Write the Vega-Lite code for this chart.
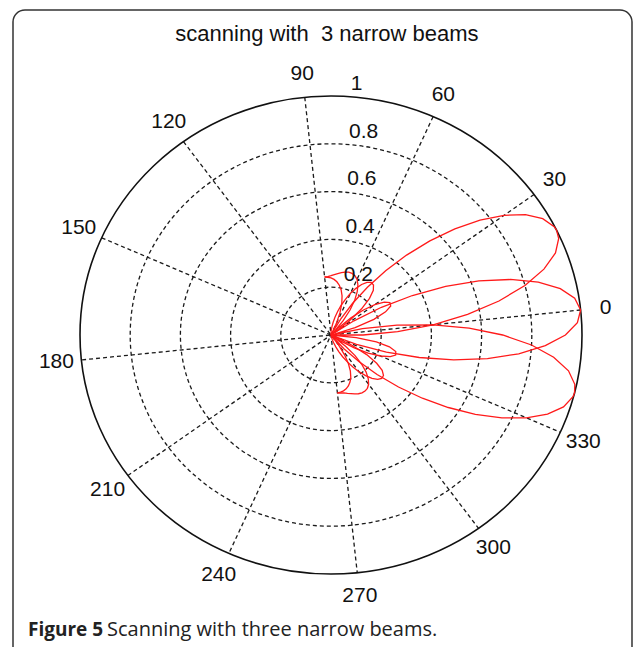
{
"$schema": "https://vega.github.io/schema/vega-lite/v6.json",
"width": 634, "height": 647, "autosize": "none", "padding": 0,
"background": "white",
"config": {"view": {"stroke": null}},
"layer": [
{"data": {"values": [{}]},
 "mark": {"type": "rect", "filled": false, "color": "#333", "stroke": "#333", "strokeWidth": 1.5, "cornerRadius": 12},
 "encoding": {
  "x": {"datum": -1.26693, "type": "quantitative", "scale": {"domain": [-1.31873, 1.20717], "nice": false, "zero": false}, "axis": null},
  "x2": {"datum": 1.1992},
  "y": {"datum": 1.35983, "type": "quantitative", "scale": {"domain": [-1.30544, 1.40167], "nice": false, "zero": false}, "axis": null},
  "y2": {"datum": -1.45}}},
{"data": {"values": [{"r": 0.2}, {"r": 0.4}, {"r": 0.6}, {"r": 0.8}]},
 "mark": {"type": "point", "filled": false, "opacity": 1, "stroke": "#1a1a1a", "strokeWidth": 1.3, "strokeDash": [4, 3],
  "shape": "M1,0C1,0.52588,0.55228,0.9522,0,0.9522C-0.55228,0.9522,-1,0.52588,-1,0C-1,-0.52588,-0.55228,-0.9522,0,-0.9522C0.55228,-0.9522,1,-0.52588,1,0Z"},
 "encoding": {
  "x": {"datum": 0, "type": "quantitative", "scale": {"domain": [-1.31873, 1.20717], "nice": false, "zero": false}, "axis": null},
  "y": {"datum": 0, "type": "quantitative", "scale": {"domain": [-1.30544, 1.40167], "nice": false, "zero": false}, "axis": null},
  "size": {"field": "r", "type": "quantitative", "scale": {"type": "pow", "exponent": 2, "domain": [0, 1], "range": [0, 252004]}, "legend": null}}},
{"data": {"values": [{"a": 0}, {"a": 30}, {"a": 60}, {"a": 90}, {"a": 120}, {"a": 150}]},
 "transform": [
  {"calculate": "cos((datum.a + 6) * PI / 180)", "as": "x"},
  {"calculate": "sin((datum.a + 6) * PI / 180)", "as": "y"},
  {"calculate": "-datum.x", "as": "x2"},
  {"calculate": "-datum.y", "as": "y2"}],
 "mark": {"type": "rule", "color": "#1a1a1a", "strokeWidth": 1.3, "strokeDash": [4, 3]},
 "encoding": {
  "x": {"field": "x", "type": "quantitative", "scale": {"domain": [-1.31873, 1.20717], "nice": false, "zero": false}, "axis": null},
  "y": {"field": "y", "type": "quantitative", "scale": {"domain": [-1.30544, 1.40167], "nice": false, "zero": false}, "axis": null},
  "x2": {"field": "x2"}, "y2": {"field": "y2"}}},
{"data": {"values": [{"r": 1}]},
 "mark": {"type": "point", "filled": false, "opacity": 1, "stroke": "#111", "strokeWidth": 1.6,
  "shape": "M1,0C1,0.52588,0.55228,0.9522,0,0.9522C-0.55228,0.9522,-1,0.52588,-1,0C-1,-0.52588,-0.55228,-0.9522,0,-0.9522C0.55228,-0.9522,1,-0.52588,1,0Z"},
 "encoding": {
  "x": {"datum": 0, "type": "quantitative", "scale": {"domain": [-1.31873, 1.20717], "nice": false, "zero": false}, "axis": null},
  "y": {"datum": 0, "type": "quantitative", "scale": {"domain": [-1.30544, 1.40167], "nice": false, "zero": false}, "axis": null},
  "size": {"field": "r", "type": "quantitative", "scale": {"type": "pow", "exponent": 2, "domain": [0, 1], "range": [0, 252004]}, "legend": null}}},
{"data": {"values": [
{"beam":"U","theta":-90,"r":0.244},{"beam":"U","theta":-87,"r":0.245},{"beam":"U","theta":-84,"r":0.248},{"beam":"U","theta":-81,"r":0.253},{"beam":"U","theta":-78,"r":0.258},{"beam":"U","theta":-75,"r":0.264},{"beam":"U","theta":-72,"r":0.269},{"beam":"U","theta":-69,"r":0.272},{"beam":"U","theta":-66,"r":0.271},{"beam":"U","theta":-63,"r":0.266},{"beam":"U","theta":-60,"r":0.255},{"beam":"U","theta":-57,"r":0.236},{"beam":"U","theta":-54,"r":0.209},{"beam":"U","theta":-51,"r":0.173},{"beam":"U","theta":-48,"r":0.129},{"beam":"U","theta":-45,"r":0.076},{"beam":"U","theta":-42,"r":0.017},{"beam":"U","theta":-41.1,"r":0},{"beam":"U","theta":-39,"r":0.045},{"beam":"U","theta":-36,"r":0.107},{"beam":"U","theta":-33,"r":0.166},{"beam":"U","theta":-30,"r":0.216},{"beam":"U","theta":-27,"r":0.253},{"beam":"U","theta":-24,"r":0.271},{"beam":"U","theta":-21,"r":0.267},{"beam":"U","theta":-18,"r":0.238},{"beam":"U","theta":-15,"r":0.183},{"beam":"U","theta":-12,"r":0.101},{"beam":"U","theta":-9.1,"r":0},{"beam":"U","theta":-6,"r":0.128},{"beam":"U","theta":-3,"r":0.266},{"beam":"U","theta":0,"r":0.409},{"beam":"U","theta":3,"r":0.551},{"beam":"U","theta":6,"r":0.684},{"beam":"U","theta":9,"r":0.8},{"beam":"U","theta":12,"r":0.892},{"beam":"U","theta":15,"r":0.958},{"beam":"U","theta":18,"r":0.993},{"beam":"U","theta":20,"r":1},{"beam":"U","theta":21,"r":0.998},{"beam":"U","theta":24,"r":0.974},{"beam":"U","theta":27,"r":0.924},{"beam":"U","theta":30,"r":0.852},{"beam":"U","theta":33,"r":0.764},{"beam":"U","theta":36,"r":0.664},{"beam":"U","theta":39,"r":0.557},{"beam":"U","theta":42,"r":0.45},{"beam":"U","theta":45,"r":0.346},{"beam":"U","theta":48,"r":0.247},{"beam":"U","theta":51,"r":0.157},{"beam":"U","theta":54,"r":0.077},{"beam":"U","theta":57.4,"r":0},{"beam":"U","theta":60,"r":0.051},{"beam":"U","theta":63,"r":0.1},{"beam":"U","theta":66,"r":0.139},{"beam":"U","theta":69,"r":0.17},{"beam":"U","theta":72,"r":0.194},{"beam":"U","theta":75,"r":0.211},{"beam":"U","theta":78,"r":0.224},{"beam":"U","theta":81,"r":0.233},{"beam":"U","theta":84,"r":0.239},{"beam":"U","theta":87,"r":0.242},{"beam":"U","theta":90,"r":0.244},
{"beam":"L","theta":-90,"r":0.244},{"beam":"L","theta":-87,"r":0.242},{"beam":"L","theta":-84,"r":0.239},{"beam":"L","theta":-81,"r":0.233},{"beam":"L","theta":-78,"r":0.224},{"beam":"L","theta":-75,"r":0.211},{"beam":"L","theta":-72,"r":0.194},{"beam":"L","theta":-69,"r":0.17},{"beam":"L","theta":-66,"r":0.139},{"beam":"L","theta":-63,"r":0.1},{"beam":"L","theta":-60,"r":0.051},{"beam":"L","theta":-57.4,"r":0},{"beam":"L","theta":-54,"r":0.077},{"beam":"L","theta":-51,"r":0.157},{"beam":"L","theta":-48,"r":0.247},{"beam":"L","theta":-45,"r":0.346},{"beam":"L","theta":-42,"r":0.45},{"beam":"L","theta":-39,"r":0.557},{"beam":"L","theta":-36,"r":0.664},{"beam":"L","theta":-33,"r":0.764},{"beam":"L","theta":-30,"r":0.852},{"beam":"L","theta":-27,"r":0.924},{"beam":"L","theta":-24,"r":0.974},{"beam":"L","theta":-21,"r":0.998},{"beam":"L","theta":-20,"r":1},{"beam":"L","theta":-18,"r":0.993},{"beam":"L","theta":-15,"r":0.958},{"beam":"L","theta":-12,"r":0.892},{"beam":"L","theta":-9,"r":0.8},{"beam":"L","theta":-6,"r":0.684},{"beam":"L","theta":-3,"r":0.551},{"beam":"L","theta":0,"r":0.409},{"beam":"L","theta":3,"r":0.266},{"beam":"L","theta":6,"r":0.128},{"beam":"L","theta":9.1,"r":0},{"beam":"L","theta":12,"r":0.101},{"beam":"L","theta":15,"r":0.183},{"beam":"L","theta":18,"r":0.238},{"beam":"L","theta":21,"r":0.267},{"beam":"L","theta":24,"r":0.271},{"beam":"L","theta":27,"r":0.253},{"beam":"L","theta":30,"r":0.216},{"beam":"L","theta":33,"r":0.166},{"beam":"L","theta":36,"r":0.107},{"beam":"L","theta":39,"r":0.045},{"beam":"L","theta":41.1,"r":0},{"beam":"L","theta":42,"r":0.017},{"beam":"L","theta":45,"r":0.076},{"beam":"L","theta":48,"r":0.129},{"beam":"L","theta":51,"r":0.173},{"beam":"L","theta":54,"r":0.209},{"beam":"L","theta":57,"r":0.236},{"beam":"L","theta":60,"r":0.255},{"beam":"L","theta":63,"r":0.266},{"beam":"L","theta":66,"r":0.271},{"beam":"L","theta":69,"r":0.272},{"beam":"L","theta":72,"r":0.269},{"beam":"L","theta":75,"r":0.264},{"beam":"L","theta":78,"r":0.258},{"beam":"L","theta":81,"r":0.253},{"beam":"L","theta":84,"r":0.248},{"beam":"L","theta":87,"r":0.245},{"beam":"L","theta":90,"r":0.244},
{"beam":"M","theta":-90,"r":0},{"beam":"M","theta":-87,"r":0.002},{"beam":"M","theta":-84,"r":0.009},{"beam":"M","theta":-81,"r":0.019},{"beam":"M","theta":-78,"r":0.034},{"beam":"M","theta":-75,"r":0.053},{"beam":"M","theta":-72,"r":0.076},{"beam":"M","theta":-69,"r":0.102},{"beam":"M","theta":-66,"r":0.13},{"beam":"M","theta":-63,"r":0.16},{"beam":"M","theta":-60,"r":0.191},{"beam":"M","theta":-57,"r":0.219},{"beam":"M","theta":-54,"r":0.244},{"beam":"M","theta":-51,"r":0.263},{"beam":"M","theta":-48,"r":0.272},{"beam":"M","theta":-45,"r":0.269},{"beam":"M","theta":-42,"r":0.252},{"beam":"M","theta":-39,"r":0.217},{"beam":"M","theta":-36,"r":0.164},{"beam":"M","theta":-33,"r":0.092},{"beam":"M","theta":-30,"r":0},{"beam":"M","theta":-27,"r":0.109},{"beam":"M","theta":-24,"r":0.232},{"beam":"M","theta":-21,"r":0.364},{"beam":"M","theta":-18,"r":0.5},{"beam":"M","theta":-15,"r":0.631},{"beam":"M","theta":-12,"r":0.752},{"beam":"M","theta":-9,"r":0.855},{"beam":"M","theta":-6,"r":0.934},{"beam":"M","theta":-3,"r":0.983},{"beam":"M","theta":0,"r":1},{"beam":"M","theta":3,"r":0.983},{"beam":"M","theta":6,"r":0.934},{"beam":"M","theta":9,"r":0.855},{"beam":"M","theta":12,"r":0.752},{"beam":"M","theta":15,"r":0.631},{"beam":"M","theta":18,"r":0.5},{"beam":"M","theta":21,"r":0.364},{"beam":"M","theta":24,"r":0.232},{"beam":"M","theta":27,"r":0.109},{"beam":"M","theta":30,"r":0},{"beam":"M","theta":33,"r":0.092},{"beam":"M","theta":36,"r":0.164},{"beam":"M","theta":39,"r":0.217},{"beam":"M","theta":42,"r":0.252},{"beam":"M","theta":45,"r":0.269},{"beam":"M","theta":48,"r":0.272},{"beam":"M","theta":51,"r":0.263},{"beam":"M","theta":54,"r":0.244},{"beam":"M","theta":57,"r":0.219},{"beam":"M","theta":60,"r":0.191},{"beam":"M","theta":63,"r":0.16},{"beam":"M","theta":66,"r":0.13},{"beam":"M","theta":69,"r":0.102},{"beam":"M","theta":72,"r":0.076},{"beam":"M","theta":75,"r":0.053},{"beam":"M","theta":78,"r":0.034},{"beam":"M","theta":81,"r":0.019},{"beam":"M","theta":84,"r":0.009},{"beam":"M","theta":87,"r":0.002},{"beam":"M","theta":90,"r":0}
 ]},
 "transform": [
  {"calculate": "datum.r * cos((datum.theta + 6) * PI / 180)", "as": "x"},
  {"calculate": "datum.r * sin((datum.theta + 6) * PI / 180)", "as": "y"}],
 "mark": {"type": "line", "color": "#ff1a1a", "strokeWidth": 1.3},
 "encoding": {
  "x": {"field": "x", "type": "quantitative", "scale": {"domain": [-1.31873, 1.20717], "nice": false, "zero": false}, "axis": null},
  "y": {"field": "y", "type": "quantitative", "scale": {"domain": [-1.30544, 1.40167], "nice": false, "zero": false}, "axis": null},
  "detail": {"field": "beam", "type": "nominal"},
  "order": {"field": "theta", "type": "quantitative"}}},
{"data": {"values": [{"a":0,"lab":"0"},{"a":30,"lab":"30"},{"a":60,"lab":"60"},{"a":90,"lab":"90"},{"a":120,"lab":"120"},{"a":150,"lab":"150"},{"a":180,"lab":"180"},{"a":210,"lab":"210"},{"a":240,"lab":"240"},{"a":270,"lab":"270"},{"a":300,"lab":"300"},{"a":330,"lab":"330"}]},
 "transform": [
  {"calculate": "1.1 * cos((datum.a + 6) * PI / 180)", "as": "x"},
  {"calculate": "1.1 * sin((datum.a + 6) * PI / 180)", "as": "y"}],
 "mark": {"type": "text", "font": "Liberation Sans", "fontSize": 21, "color": "#111", "align": "center", "baseline": "middle"},
 "encoding": {
  "x": {"field": "x", "type": "quantitative", "scale": {"domain": [-1.31873, 1.20717], "nice": false, "zero": false}, "axis": null},
  "y": {"field": "y", "type": "quantitative", "scale": {"domain": [-1.30544, 1.40167], "nice": false, "zero": false}, "axis": null},
  "text": {"field": "lab", "type": "nominal"}}},
{"data": {"values": [{"v":0.2,"lab":"0.2"},{"v":0.4,"lab":"0.4"},{"v":0.6,"lab":"0.6"},{"v":0.8,"lab":"0.8"},{"v":1,"lab":"1"}]},
 "transform": [
  {"calculate": "(datum.v + 0.01) * cos(88 * PI / 180)", "as": "x"},
  {"calculate": "(datum.v + 0.01) * sin(88 * PI / 180)", "as": "y"}],
 "mark": {"type": "text", "font": "Liberation Sans", "fontSize": 21, "color": "#111", "align": "left", "baseline": "bottom", "dx": 11},
 "encoding": {
  "x": {"field": "x", "type": "quantitative", "scale": {"domain": [-1.31873, 1.20717], "nice": false, "zero": false}, "axis": null},
  "y": {"field": "y", "type": "quantitative", "scale": {"domain": [-1.30544, 1.40167], "nice": false, "zero": false}, "axis": null},
  "text": {"field": "lab", "type": "nominal"}}},
{"data": {"values": [{}]},
 "mark": {"type": "text", "font": "Liberation Sans", "fontSize": 22, "color": "#111", "align": "center", "baseline": "middle", "text": "scanning with\u00a0 3 narrow beams"},
 "encoding": {
  "x": {"datum": -0.016, "type": "quantitative", "scale": {"domain": [-1.31873, 1.20717], "nice": false, "zero": false}, "axis": null},
  "y": {"datum": 1.2594, "type": "quantitative", "scale": {"domain": [-1.30544, 1.40167], "nice": false, "zero": false}, "axis": null}}},
{"data": {"values": [{}]},
 "mark": {"type": "text", "font": "Open Sans", "fontSize": 19, "fontWeight": "bold", "color": "#222", "align": "left", "baseline": "middle", "text": "Figure 5"},
 "encoding": {
  "x": {"datum": -1.2072, "type": "quantitative", "scale": {"domain": [-1.31873, 1.20717], "nice": false, "zero": false}, "axis": null},
  "y": {"datum": -1.2343, "type": "quantitative", "scale": {"domain": [-1.30544, 1.40167], "nice": false, "zero": false}, "axis": null}}},
{"data": {"values": [{}]},
 "mark": {"type": "text", "font": "Open Sans", "fontSize": 20, "color": "#222", "align": "left", "baseline": "middle", "text": "Scanning with three narrow beams."},
 "encoding": {
  "x": {"datum": -0.8924, "type": "quantitative", "scale": {"domain": [-1.31873, 1.20717], "nice": false, "zero": false}, "axis": null},
  "y": {"datum": -1.2343, "type": "quantitative", "scale": {"domain": [-1.30544, 1.40167], "nice": false, "zero": false}, "axis": null}}}
]
}
